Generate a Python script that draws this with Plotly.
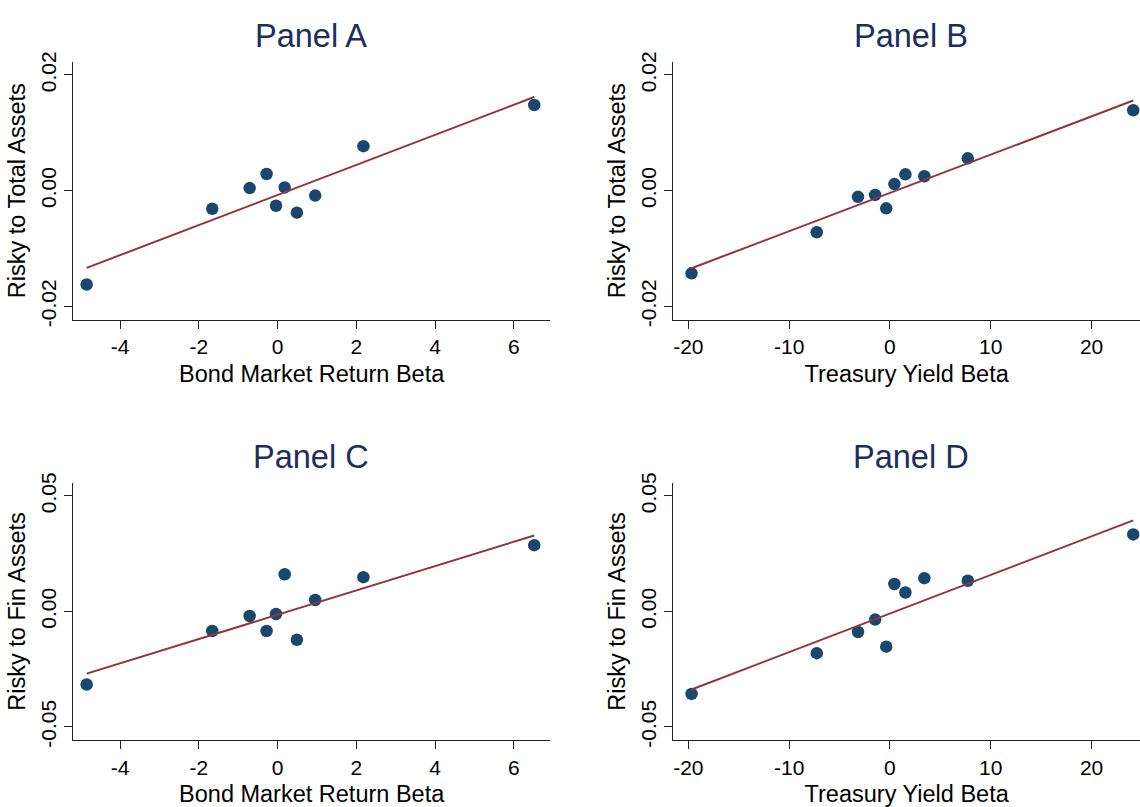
import numpy as np
import plotly.graph_objects as go

# ---- data ----
bond_beta = [-4.85, -1.66, -0.71, -0.28, 0.18, -0.04, 0.49, 0.955, 2.18, 6.52]
risky_total_A = [-0.01622, -0.00312, 0.00044, 0.00288, 0.00056, -0.00261, -0.00380, -0.00085, 0.00768, 0.01480]
risky_fin_C = [-0.03164, -0.00847, -0.00198, -0.00847, 0.01610, -0.00113, -0.01229, 0.00494, 0.01483, 0.02867]

treas_beta = [-19.68, -7.26, -3.17, -1.47, -0.37, 0.44, 1.53, 3.41, 7.72, 24.13]
risky_total_B = [-0.01429, -0.00718, -0.00107, -0.00073, -0.00305, 0.00113, 0.00282, 0.00249, 0.00559, 0.01390]
risky_fin_D = [-0.03573, -0.01808, -0.00890, -0.00353, -0.01525, 0.01186, 0.00819, 0.01441, 0.01328, 0.03333]

panel_titles = ["Panel A", "Panel B", "Panel C", "Panel D"]
x_titles = ["Bond Market Return Beta", "Treasury Yield Beta", "Bond Market Return Beta", "Treasury Yield Beta"]
y_titles = ["Risky to Total Assets", "Risky to Total Assets", "Risky to Fin Assets", "Risky to Fin Assets"]

bond_ticks = [-4, -2, 0, 2, 4, 6]
bond_ticktext = ["-4", "-2", "0", "2", "4", "6"]
treas_ticks = [-20, -10, 0, 10, 20]
treas_ticktext = ["-20", "-10", "0", "10", "20"]
total_ticks = [-0.02, 0.00, 0.02]
total_ticktext = ["-0.02", "0.00", "0.02"]
fin_ticks = [-0.05, 0.00, 0.05]
fin_ticktext = ["-0.05", "0.00", "0.05"]

panels = [
    (bond_beta, risky_total_A, bond_ticks, bond_ticktext, total_ticks, total_ticktext, [-5.19, 6.92], [-0.02232, 0.0223]),
    (treas_beta, risky_total_B, treas_ticks, treas_ticktext, total_ticks, total_ticktext, [-21.49, 24.8], [-0.02232, 0.0223]),
    (bond_beta, risky_fin_C, bond_ticks, bond_ticktext, fin_ticks, fin_ticktext, [-5.19, 6.92], [-0.0558, 0.0558]),
    (treas_beta, risky_fin_D, treas_ticks, treas_ticktext, fin_ticks, fin_ticktext, [-21.49, 24.8], [-0.0558, 0.0558]),
]

W, H = 1140, 807
x_doms = [[73.3 / W, 550 / W], [673.3 / W, 1.0]]
y_doms = [[1 - 316.5 / H, 1 - 52.7 / H], [1 - 746 / H, 1 - 482.7 / H]]
title_pos = [(311, 27), (911, 27), (311, 457), (911, 457)]

NAVY = "#1a476f"
MAROON = "#90353b"
FONT = "Liberation Sans, Arial, sans-serif"

fig = go.Figure()
layout = dict(
    width=W, height=H,
    margin=dict(l=0, r=0, t=0, b=0),
    paper_bgcolor="white", plot_bgcolor="white",
    showlegend=False,
    font=dict(family=FONT, color="black"),
    annotations=[],
)

for i, (xs, ys, xt, xtt, yt, ytt, xr, yr) in enumerate(panels):
    k = "" if i == 0 else str(i + 1)
    xa, ya = "x" + k, "y" + k
    fig.add_trace(go.Scatter(
        x=xs, y=ys, mode="markers", xaxis=xa, yaxis=ya,
        marker=dict(color=NAVY, size=12.5, line=dict(width=0)),
        cliponaxis=False,
    ))
    slope, intercept = np.polyfit(np.array(xs), np.array(ys), 1)
    lx = np.array([min(xs), max(xs)])
    fig.add_trace(go.Scatter(
        x=lx, y=slope * lx + intercept, mode="lines", xaxis=xa, yaxis=ya,
        line=dict(color=MAROON, width=2),
    ))
    col, row = i % 2, i // 2
    layout["xaxis" + k] = dict(
        domain=x_doms[col], anchor=ya, range=xr,
        tickvals=xt, ticktext=xtt, ticks="outside", ticklen=8, tickwidth=1.3, tickcolor="#222",
        showline=True, linecolor="#222", linewidth=1.3, showgrid=False, zeroline=False,
        tickfont=dict(size=21, family=FONT, color="black"),
        title=dict(text=x_titles[i], font=dict(size=23.5, family=FONT, color="black"), standoff=8),
    )
    layout["yaxis" + k] = dict(
        domain=y_doms[row], anchor=xa, range=yr,
        tickvals=yt, ticktext=ytt, ticks="outside", ticklen=8, tickwidth=1.3, tickcolor="#222",
        tickangle=-90,
        showline=True, linecolor="#222", linewidth=1.3, showgrid=False, zeroline=False,
        tickfont=dict(size=21, family=FONT, color="black"),
        title=dict(text=y_titles[i], font=dict(size=23.5, family=FONT, color="black"), standoff=4),
    )
    tx, ty = title_pos[i]
    layout["annotations"].append(dict(
        text=panel_titles[i], x=tx / W, y=1 - ty / H, xref="paper", yref="paper",
        xanchor="center", yanchor="middle", showarrow=False,
        font=dict(size=32.5, family=FONT, color="#1c2e5c"),
    ))

fig.update_layout(**layout)
fig.write_html(
    "out.html",
    config={"displayModeBar": False},
    post_script="document.body.style.margin='0';document.body.style.overflow='hidden';",
)
